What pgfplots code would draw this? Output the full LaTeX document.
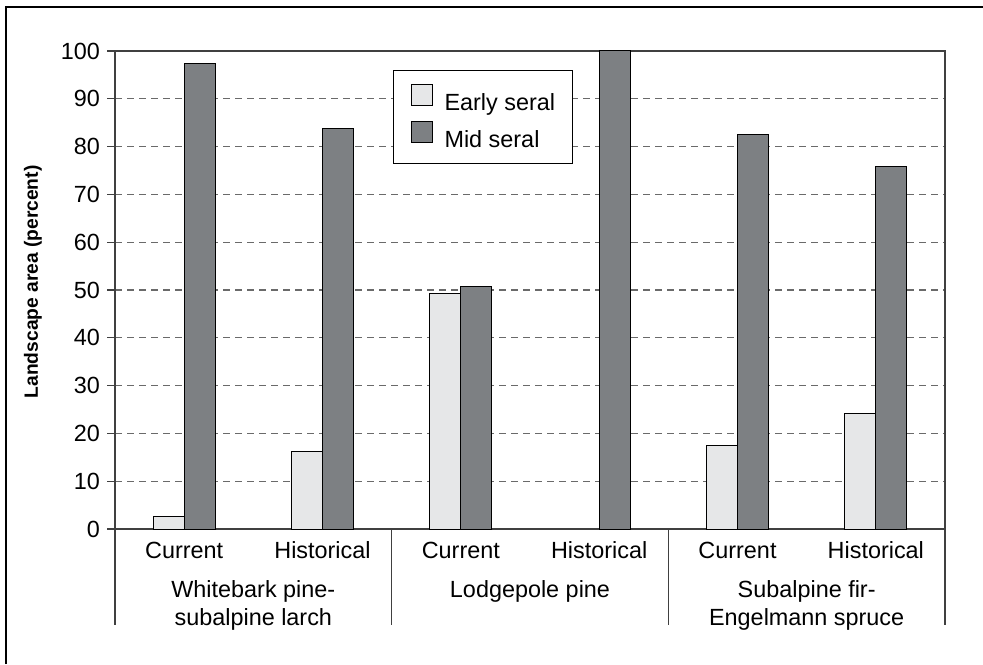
\documentclass[border=0pt]{standalone}
\usepackage{fontspec}
\setmainfont{Liberation Sans}
\usepackage{pgfplots}
\pgfplotsset{compat=1.18}
\definecolor{earlyfill}{HTML}{E6E7E8}
\definecolor{midfill}{HTML}{7D8083}
\definecolor{axisgrey}{HTML}{404040}
\definecolor{gridgrey}{HTML}{6A6A6A}
\newcommand{\lblfont}{\fontsize{11.7}{14}\selectfont}

\begin{document}
\begin{tikzpicture}
\useasboundingbox (0,0) rectangle (491.5pt,332pt);
\draw[line width=0.6pt] (3pt,0) -- (3pt,328.5pt) -- (491.5pt,328.5pt);
\begin{axis}[
    at={(57.5pt,67.5pt)}, anchor=south west,
    scale only axis, width=415pt, height=239pt,
    ymin=0, ymax=100, ytick distance=10,
    xmin=-0.5, xmax=5.5,
    xtick={0,...,5},
    xticklabels={Current,Historical,Current,Historical,Current,Historical},
    tick pos=left, tick align=outside, major tick length=4pt,
    major x tick style={draw=none},
    ytick style={axisgrey, line width=0.65pt},
    axis line style={axisgrey, line width=0.65pt},
    ymajorgrids, grid style={gridgrey, line width=0.6pt, dash pattern=on 3.5pt off 2.5pt},
    tick label style={font=\lblfont},
    /pgf/number format/assume math mode=true,
    xticklabel style={anchor=base, yshift=-10.5pt},
    ylabel={Landscape area (percent)},
    ylabel style={font=\fontsize{9.6}{11}\selectfont\bfseries, at={([xshift=-41pt]rel axis cs:0,0.517)}, anchor=center},
    ybar=0pt, bar width=15.5pt,
    clip=false,
    legend style={at={(rel axis cs:0.335,0.960)}, anchor=north west,
        draw=black, line width=0.5pt, font=\lblfont,
        inner xsep=8.5pt, inner ysep=6.5pt, row sep=3.9pt,
        nodes={inner sep=0pt},
        /tikz/every odd column/.append style={column sep=6pt}},
    legend cell align=left,
    legend image code/.code={\draw[#1, line width=0.5pt] (0pt,-1pt) rectangle (10.5pt,9.5pt);},
]
\addplot[fill=earlyfill, draw=black, line width=0.5pt] coordinates {
    (0,2.7) (1,16.2) (2,49.3) (4,17.4) (5,24.2)};
\addlegendentry{Early seral}
\addplot[fill=midfill, draw=black, line width=0.5pt] coordinates {
    (0,97.3) (1,83.8) (2,50.7) (3,100) (4,82.6) (5,75.8)};
\addlegendentry{Mid seral}

% group separators below the axis
\draw[axisgrey, line width=0.65pt] (axis cs:-0.5,0) -- ([yshift=-47.75pt]axis cs:-0.5,0);
\draw[axisgrey, line width=0.65pt] (axis cs:1.5,0) -- ([yshift=-47.75pt]axis cs:1.5,0);
\draw[axisgrey, line width=0.65pt] (axis cs:3.5,0) -- ([yshift=-47.75pt]axis cs:3.5,0);
\draw[axisgrey, line width=0.65pt] (axis cs:5.5,0) -- ([yshift=-47.75pt]axis cs:5.5,0);
\node[font=\lblfont, anchor=base] at ([yshift=-34.3pt]axis cs:0.5,0) {Whitebark pine-};
\node[font=\lblfont, anchor=base] at ([yshift=-48pt]axis cs:0.5,0) {subalpine larch};
\node[font=\lblfont, anchor=base] at ([yshift=-34.3pt]axis cs:2.5,0) {Lodgepole pine};
\node[font=\lblfont, anchor=base] at ([yshift=-34.3pt]axis cs:4.5,0) {Subalpine fir-};
\node[font=\lblfont, anchor=base] at ([yshift=-48pt]axis cs:4.5,0) {Engelmann spruce};
\end{axis}
\end{tikzpicture}
\end{document}
